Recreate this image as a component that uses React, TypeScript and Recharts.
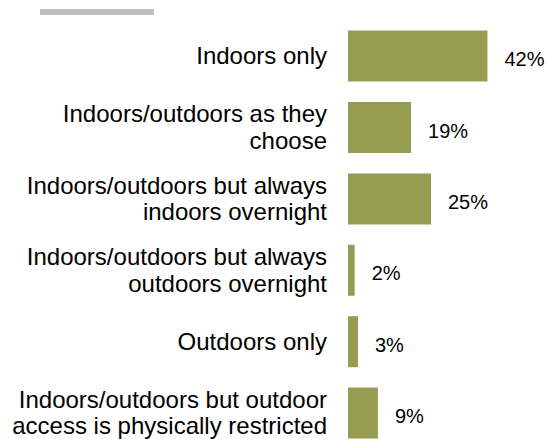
import React from 'react';
import { BarChart, Bar, XAxis, YAxis, LabelList } from 'recharts';

const categories = [
  'Indoors only',
  'Indoors/outdoors as they\nchoose',
  'Indoors/outdoors but always\nindoors overnight',
  'Indoors/outdoors but always\noutdoors overnight',
  'Outdoors only',
  'Indoors/outdoors but outdoor\naccess is physically restricted',
];
const shares = [42, 19, 25, 2, 3, 9];

const data = categories.map((label, i) => ({ label, value: shares[i] }));

const FONT = '"Liberation Sans", Arial, sans-serif';

function CategoryTick(props: any) {
  const { x, y, payload } = props;
  const lines: string[] = String(payload.value).split('\n');
  const fs = 24;
  const lh = 26.5;
  return (
    <text x={x} y={y} textAnchor="end" fontSize={fs} fontFamily={FONT} fill="#000">
      {lines.map((ln, i) => (
        <tspan key={i} x={x} y={y + fs * 0.33 + (i - (lines.length - 1) / 2) * lh}>
          {ln}
        </tspan>
      ))}
    </text>
  );
}

function ValueLabel(props: any) {
  const { x, y, width, height, value } = props;
  return (
    <text
      x={x + width + 17}
      y={y + height / 2 + 10}
      fontSize={20}
      fontFamily={FONT}
      fill="#000"
    >
      {value}%
    </text>
  );
}

export default function App() {
  return (
    <>
      {/* chart is laid out in page pixels, so drop the default body margin */}
      <style>{'html,body{margin:0;padding:0;overflow:hidden;}'}</style>
      <div style={{ position: 'relative', width: 547, height: 439, overflow: 'hidden' }}>
        <div
          style={{
            position: 'absolute',
            left: 40,
            top: 9,
            width: 114,
            height: 6,
            background: '#bfbfbf',
          }}
        />
        <BarChart
          width={547}
          height={449}
          data={data}
          layout="vertical"
          margin={{ top: 20.6, right: 33, bottom: 0, left: 8 }}
        >
          <XAxis type="number" domain={[0, 50]} hide />
          <YAxis
            type="category"
            dataKey="label"
            width={340}
            axisLine={false}
            tickLine={false}
            tickSize={0}
            tickMargin={21}
            tick={<CategoryTick />}
            interval={0}
          />
          <Bar dataKey="value" fill="#969c50" barSize={51} isAnimationActive={false}>
            <LabelList dataKey="value" content={<ValueLabel />} />
          </Bar>
        </BarChart>
      </div>
    </>
  );
}
